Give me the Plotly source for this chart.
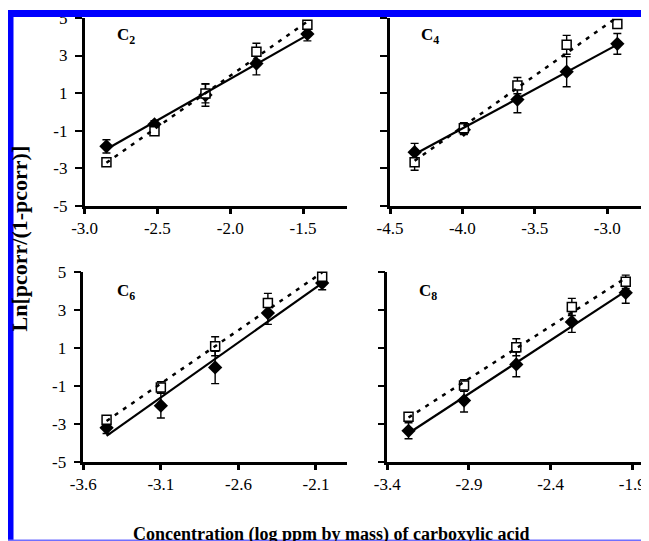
import numpy as np
import plotly.graph_objects as go

# The page body has an 8px margin, so the figure is drawn 8px in from the
# window's top-left corner; size it to fill the remaining visible area.
OFF = 8
W, H = 649 - OFF, 541 - OFF

# ---------------- data ----------------
panel_names = ["C<sub>2</sub>", "C<sub>4</sub>", "C<sub>6</sub>", "C<sub>8</sub>"]

c2_x = [-2.85, -2.52, -2.17, -1.82, -1.47]
c2_filled = [-1.83, -0.66, 0.90, 2.57, 4.15]
c2_filled_err = [0.35, 0.20, 0.60, 0.60, 0.37]
c2_open = [-2.67, -1.03, 0.98, 3.20, 4.63]
c2_open_err = [0.20, 0.20, 0.50, 0.45, 0.20]

c4_x = [-4.33, -3.99, -3.62, -3.28, -2.93]
c4_filled = [-2.14, -0.95, 0.66, 2.14, 3.62]
c4_filled_err = [0.47, 0.25, 0.70, 0.80, 0.55]
c4_open = [-2.67, -0.87, 1.40, 3.57, 4.68]
c4_open_err = [0.43, 0.30, 0.43, 0.50, 0.20]

c6_x = [-3.45, -3.10, -2.75, -2.41, -2.06]
c6_filled = [-3.20, -2.04, -0.03, 2.83, 4.40]
c6_filled_err = [0.30, 0.65, 0.85, 0.60, 0.35]
c6_open = [-2.78, -1.08, 1.08, 3.36, 4.74]
c6_open_err = [0.20, 0.30, 0.50, 0.50, 0.20]

c8_x = [-3.27, -2.93, -2.61, -2.27, -1.94]
c8_filled = [-3.36, -1.77, 0.13, 2.36, 3.89]
c8_filled_err = [0.42, 0.60, 0.65, 0.55, 0.55]
c8_open = [-2.62, -0.98, 1.03, 3.15, 4.47]
c8_open_err = [0.20, 0.30, 0.45, 0.45, 0.35]

y_ticks = [-5, -3, -1, 1, 3, 5]
y_ticklabels = ["-5", "-3", "-1", "1", "3", "5"]
c2_xticks = [-3.0, -2.5, -2.0, -1.5]
c2_xticklabels = ["-3.0", "-2.5", "-2.0", "-1.5"]
c4_xticks = [-4.5, -4.0, -3.5, -3.0]
c4_xticklabels = ["-4.5", "-4.0", "-3.5", "-3.0"]
c6_xticks = [-3.6, -3.1, -2.6, -2.1]
c6_xticklabels = ["-3.6", "-3.1", "-2.6", "-2.1"]
c8_xticks = [-3.4, -2.9, -2.4, -1.9]
c8_xticklabels = ["-3.4", "-2.9", "-2.4", "-1.9"]

y_title = "Ln[pcorr/(1-pcorr)]"
x_title = "Concentration (log ppm by mass) of carboxylic acid"

# ---------------- layout geometry (window pixels -> paper) ----------------
def px(x):
    return (x - OFF) / W

def py(y):
    return 1 - (y - OFF) / H

panels = [
    dict(x=c2_x, a=c2_filled, ae=c2_filled_err, b=c2_open, be=c2_open_err,
         xt=c2_xticks, xl=c2_xticklabels, xdom=[px(84.6), px(346.7)], xr=[-3.0, -1.2],
         ydom=[py(206.0), py(17.9)], showy=True, lab=(115, 36)),
    dict(x=c4_x, a=c4_filled, ae=c4_filled_err, b=c4_open, be=c4_open_err,
         xt=c4_xticks, xl=c4_xticklabels, xdom=[px(390.0), 1.0], xr=[-4.5, -4.5 + (649 - 390.0) / 144.8],
         ydom=[py(206.0), py(17.9)], showy=False, lab=(419, 36)),
    dict(x=c6_x, a=c6_filled, ae=c6_filled_err, b=c6_open, be=c6_open_err,
         xt=c6_xticks, xl=c6_xticklabels, xdom=[px(83.3), px(347.0)], xr=[-3.6, -1.9],
         ydom=[py(462.0), py(271.7)], showy=True, lab=(115, 292)),
    dict(x=c8_x, a=c8_filled, ae=c8_filled_err, b=c8_open, be=c8_open_err,
         xt=c8_xticks, xl=c8_xticklabels, xdom=[px(387.3), 1.0], xr=[-3.4, -3.4 + (649 - 387.3) / 163.3],
         ydom=[py(462.0), py(271.7)], showy=False, lab=(417, 292)),
]

FONT = "Liberation Serif, Times New Roman, serif"

fig = go.Figure()
layout = dict(
    template="none",
    width=W, height=H, margin=dict(l=0, r=0, t=0, b=0, pad=0), autosize=False,
    paper_bgcolor="white", plot_bgcolor="rgba(0,0,0,0)",
    showlegend=False, font=dict(family=FONT, color="black", size=16),
)

annotations = []
line_traces = []
for i, p in enumerate(panels):
    n = i + 1
    xa = "x" if n == 1 else f"x{n}"
    ya = "y" if n == 1 else f"y{n}"
    xkey = "xaxis" if n == 1 else f"xaxis{n}"
    ykey = "yaxis" if n == 1 else f"yaxis{n}"
    layout[xkey] = dict(
        domain=p["xdom"], range=p["xr"], anchor=ya, automargin=False,
        tickmode="array", tickvals=p["xt"], ticktext=p["xl"],
        showline=True, linecolor="black", linewidth=2.5,
        ticks="outside", ticklen=5, tickwidth=2.5, tickcolor="black",
        showgrid=False, zeroline=False,
        tickfont=dict(family=FONT, size=17, color="black"),
    )
    layout[ykey] = dict(
        domain=p["ydom"], range=[-5, 5], anchor=xa, automargin=False,
        tickmode="array", tickvals=y_ticks, ticktext=y_ticklabels,
        showticklabels=p["showy"],
        showline=True, linecolor="black", linewidth=2.5,
        ticks="outside", ticklen=7, tickwidth=2, tickcolor="black",
        showgrid=False, zeroline=False,
        tickfont=dict(family=FONT, size=17, color="black"),
        ticklabelstandoff=4,
    )

    # filled diamonds
    fig.add_trace(go.Scatter(
        x=p["x"], y=p["a"], mode="markers", xaxis=xa, yaxis=ya,
        marker=dict(symbol="diamond", size=11, color="black"),
        error_y=dict(type="data", array=p["ae"], visible=True, color="black", thickness=1.4, width=4),
        cliponaxis=False,
    ))
    # open squares
    fig.add_trace(go.Scatter(
        x=p["x"], y=p["b"], mode="markers", xaxis=xa, yaxis=ya,
        marker=dict(symbol="square", size=9, color="white", line=dict(color="black", width=1.5)),
        error_y=dict(type="data", array=p["be"], visible=True, color="black", thickness=1.4, width=4),
        cliponaxis=False,
    ))
    # linear fits
    xs = np.array([min(p["x"]), max(p["x"])])
    ka, ba = np.polyfit(p["x"], p["a"], 1)
    kb, bb = np.polyfit(p["x"], p["b"], 1)
    line_traces.append(go.Scatter(
        x=xs, y=ka * xs + ba, mode="lines", xaxis=xa, yaxis=ya,
        line=dict(color="black", width=2.2), cliponaxis=False,
    ))
    line_traces.append(go.Scatter(
        x=xs, y=kb * xs + bb, mode="lines", xaxis=xa, yaxis=ya,
        line=dict(color="black", width=2.5, dash="4px,6px"), cliponaxis=False,
    ))

    annotations.append(dict(
        text="<b>" + panel_names[i] + "</b>", xref="paper", yref="paper",
        x=px(p["lab"][0]), y=py(p["lab"][1]), xanchor="left", yanchor="middle",
        showarrow=False, font=dict(family=FONT, size=17, color="black"),
    ))

for t in line_traces:
    fig.add_trace(t)

annotations.append(dict(
    text="<b>" + y_title + "</b>", xref="paper", yref="paper",
    x=px(18.5), y=py(239), xanchor="center", yanchor="middle", textangle=-90,
    showarrow=False, font=dict(family=FONT, size=22, color="black"),
))
annotations.append(dict(
    text="<b>" + x_title + "</b>", xref="paper", yref="paper",
    x=px(331), y=py(534), xanchor="center", yanchor="middle",
    showarrow=False, font=dict(family=FONT, size=18, color="black"),
))
layout["annotations"] = annotations

BLUE = "#0000FF"
layout["shapes"] = [
    dict(type="rect", xref="paper", yref="paper", x0=0, x1=1, y0=py(17), y1=py(10),
         fillcolor=BLUE, line=dict(width=0), layer="above"),
    dict(type="rect", xref="paper", yref="paper", x0=0, x1=px(13.5), y0=0, y1=py(10),
         fillcolor=BLUE, line=dict(width=0), layer="above"),
    dict(type="rect", xref="paper", yref="paper", x0=px(644), x1=px(646), y0=0, y1=py(10),
         fillcolor=BLUE, line=dict(width=0), layer="above"),
    dict(type="rect", xref="paper", yref="paper", x0=0, x1=px(646), y0=0, y1=py(539.5),
         fillcolor="#6f6fff", line=dict(width=0), layer="above"),
]

fig.update_layout(**layout)
fig.write_html("out.html")
